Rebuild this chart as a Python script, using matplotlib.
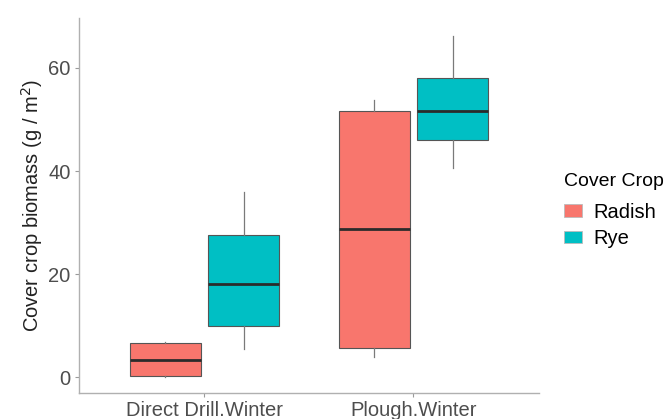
import matplotlib.pyplot as plt
from matplotlib.patches import Patch

plt.rcParams['font.family'] = ['Liberation Sans', 'DejaVu Sans']

# data (box summary per group)
sites = ["Direct Drill.Winter", "Plough.Winter"]
crops = ["Radish", "Rye"]
colors = {"Radish": "#F8766D", "Rye": "#00BFC4"}

whis_lo = {"Radish": [0.0, 3.8], "Rye": [5.4, 40.5]}
q1 = {"Radish": [0.2, 5.7], "Rye": [10.0, 46.1]}
med = {"Radish": [3.3, 28.7], "Rye": [18.1, 51.7]}
q3 = {"Radish": [6.7, 51.7], "Rye": [27.6, 58.0]}
whis_hi = {"Radish": [6.9, 53.7], "Rye": [36.0, 66.3]}

fig = plt.figure(figsize=(6.67, 4.19), dpi=100)
ax = fig.add_axes([0.1184, 0.062, 0.6896, 0.895])

dodge = 0.1875
for j, crop in enumerate(crops):
    stats = []
    for i in range(len(sites)):
        stats.append(dict(whislo=whis_lo[crop][i], q1=q1[crop][i], med=med[crop][i],
                          q3=q3[crop][i], whishi=whis_hi[crop][i], fliers=[]))
    pos = [i + 1 + (j * 2 - 1) * dodge for i in range(len(sites))]
    ax.bxp(stats, positions=pos, widths=0.34, patch_artist=True, showcaps=False,
           boxprops=dict(facecolor=colors[crop], edgecolor='#555555', linewidth=0.8),
           medianprops=dict(color='#2b2b2b', linewidth=2),
           whiskerprops=dict(color='#7a7a7a', linewidth=0.9))

ax.set_xlim(0.4, 2.6)
ax.set_ylim(-3.1, 69.7)
ax.set_xticks([1, 2])
ax.set_xticklabels(sites, fontsize=14.5, color='#4d4d4d')
ax.set_yticks([0, 20, 40, 60])
ax.set_yticklabels(['0', '20', '40', '60'], fontsize=14.5, color='#4d4d4d')
ax.tick_params(axis='both', colors='#9a9a9a', length=3, width=0.8, labelcolor='#4d4d4d', pad=3)
ax.set_ylabel(r"Cover crop biomass (g / m$^2$)", fontsize=14.5, color='#222222', labelpad=2)

for side in ['top', 'right']:
    ax.spines[side].set_visible(False)
for side in ['left', 'bottom']:
    ax.spines[side].set_color('#b0b0b0')
    ax.spines[side].set_linewidth(1.0)

handles = [Patch(facecolor=colors[c], edgecolor='#bbbbbb', linewidth=0.6, label=c) for c in crops]
leg = fig.legend(handles=handles, title="Cover Crop", loc='upper left',
                 bbox_to_anchor=(0.818, 0.63), frameon=False, fontsize=14.5,
                 title_fontsize=14, handlelength=0.9, handleheight=0.55,
                 labelspacing=0.35, handletextpad=0.55)
leg._legend_box.align = "left"
leg._legend_box.sep = 9

fig.savefig("out.png", dpi=100)
